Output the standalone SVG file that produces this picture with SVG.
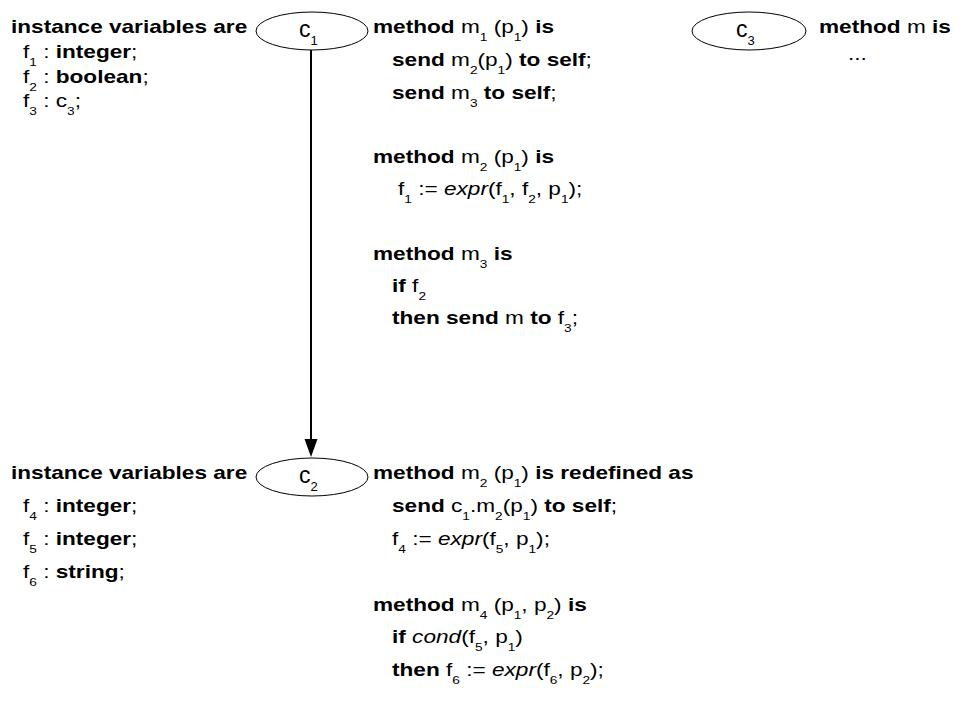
<svg xmlns="http://www.w3.org/2000/svg" width="963" height="702" viewBox="0 0 963 702">
<style>
text{font-family:"Liberation Sans",Arial,Helvetica,sans-serif;font-size:19px;fill:#000}
.b{font-weight:bold}
.i{font-style:italic}
.s{font-size:11.5px}
.lbl{font-size:23px}
.ls{font-size:13px}
ellipse{fill:#fff;stroke:#000;stroke-width:1}
</style>
<rect width="963" height="702" fill="#fff"/>
<g id="connectors">
<line x1="311" y1="50" x2="311" y2="440" stroke="#000" stroke-width="2"/>
<polygon points="304.5,439 317.5,439 311,457" fill="#000"/>
</g>
<g id="c1">
<ellipse cx="312" cy="31" rx="56" ry="19"/>
<text x="299" y="37" class="lbl">c<tspan class="ls" dy="8">1</tspan></text>
</g>
<g id="c2">
<ellipse cx="312" cy="477" rx="56" ry="19"/>
<text x="299" y="483" class="lbl">c<tspan class="ls" dy="8">2</tspan></text>
</g>
<g id="c3">
<ellipse cx="749" cy="31" rx="57" ry="19"/>
<text x="736" y="37" class="lbl">c<tspan class="ls" dy="8">3</tspan></text>
</g>
<g id="c1-vars">
<text transform="translate(11,33) scale(1.19,1)" class="b">instance variables are</text>
<text transform="translate(23,58) scale(1.19,1)">f<tspan class="s" dy="8">1</tspan><tspan dy="-8"> : </tspan><tspan class="b">integer</tspan>;</text>
<text transform="translate(23,83) scale(1.19,1)">f<tspan class="s" dy="8">2</tspan><tspan dy="-8"> : </tspan><tspan class="b">boolean</tspan>;</text>
<text transform="translate(23,107) scale(1.19,1)">f<tspan class="s" dy="8">3</tspan><tspan dy="-8"> : c</tspan><tspan class="s" dy="8">3</tspan><tspan dy="-8">;</tspan></text>
</g>
<g id="c1-methods">
<text transform="translate(373,33) scale(1.19,1)"><tspan class="b">method</tspan> m<tspan class="s" dy="8">1</tspan><tspan dy="-8"> (p</tspan><tspan class="s" dy="8">1</tspan><tspan dy="-8">) </tspan><tspan class="b">is</tspan></text>
<text transform="translate(392,66) scale(1.19,1)"><tspan class="b">send</tspan> m<tspan class="s" dy="8">2</tspan><tspan dy="-8">(p</tspan><tspan class="s" dy="8">1</tspan><tspan dy="-8">) </tspan><tspan class="b">to self</tspan>;</text>
<text transform="translate(392,99) scale(1.19,1)"><tspan class="b">send</tspan> m<tspan class="s" dy="8">3</tspan><tspan dy="-8"> </tspan><tspan class="b">to self</tspan>;</text>
<text transform="translate(373,163) scale(1.19,1)"><tspan class="b">method</tspan> m<tspan class="s" dy="8">2</tspan><tspan dy="-8"> (p</tspan><tspan class="s" dy="8">1</tspan><tspan dy="-8">) </tspan><tspan class="b">is</tspan></text>
<text transform="translate(398,195) scale(1.19,1)">f<tspan class="s" dy="8">1</tspan><tspan dy="-8"> := </tspan><tspan class="i">expr</tspan>(f<tspan class="s" dy="8">1</tspan><tspan dy="-8">, f</tspan><tspan class="s" dy="8">2</tspan><tspan dy="-8">, p</tspan><tspan class="s" dy="8">1</tspan><tspan dy="-8">);</tspan></text>
<text transform="translate(373,260) scale(1.19,1)"><tspan class="b">method</tspan> m<tspan class="s" dy="8">3</tspan><tspan dy="-8"> </tspan><tspan class="b">is</tspan></text>
<text transform="translate(392,292) scale(1.19,1)"><tspan class="b">if</tspan> f<tspan class="s" dy="8">2</tspan></text>
<text transform="translate(392,324) scale(1.19,1)"><tspan class="b">then send</tspan> m <tspan class="b">to</tspan> f<tspan class="s" dy="8">3</tspan><tspan dy="-8">;</tspan></text>
</g>
<g id="c3-methods">
<text transform="translate(819,33) scale(1.19,1)"><tspan class="b">method</tspan> m <tspan class="b">is</tspan></text>
<text transform="translate(848,60) scale(1.19,1)">...</text>
</g>
<g id="c2-vars">
<text transform="translate(11,479) scale(1.19,1)" class="b">instance variables are</text>
<text transform="translate(23,512) scale(1.19,1)">f<tspan class="s" dy="8">4</tspan><tspan dy="-8"> : </tspan><tspan class="b">integer</tspan>;</text>
<text transform="translate(23,545) scale(1.19,1)">f<tspan class="s" dy="8">5</tspan><tspan dy="-8"> : </tspan><tspan class="b">integer</tspan>;</text>
<text transform="translate(23,578) scale(1.19,1)">f<tspan class="s" dy="8">6</tspan><tspan dy="-8"> : </tspan><tspan class="b">string</tspan>;</text>
</g>
<g id="c2-methods">
<text transform="translate(373,479) scale(1.19,1)"><tspan class="b">method</tspan> m<tspan class="s" dy="8">2</tspan><tspan dy="-8"> (p</tspan><tspan class="s" dy="8">1</tspan><tspan dy="-8">) </tspan><tspan class="b">is redefined as</tspan></text>
<text transform="translate(392,512) scale(1.19,1)"><tspan class="b">send</tspan> c<tspan class="s" dy="8">1</tspan><tspan dy="-8">.m</tspan><tspan class="s" dy="8">2</tspan><tspan dy="-8">(p</tspan><tspan class="s" dy="8">1</tspan><tspan dy="-8">) </tspan><tspan class="b">to self</tspan>;</text>
<text transform="translate(392,545) scale(1.19,1)">f<tspan class="s" dy="8">4</tspan><tspan dy="-8"> := </tspan><tspan class="i">expr</tspan>(f<tspan class="s" dy="8">5</tspan><tspan dy="-8">, p</tspan><tspan class="s" dy="8">1</tspan><tspan dy="-8">);</tspan></text>
<text transform="translate(373,611) scale(1.19,1)"><tspan class="b">method</tspan> m<tspan class="s" dy="8">4</tspan><tspan dy="-8"> (p</tspan><tspan class="s" dy="8">1</tspan><tspan dy="-8">, p</tspan><tspan class="s" dy="8">2</tspan><tspan dy="-8">) </tspan><tspan class="b">is</tspan></text>
<text transform="translate(392,643) scale(1.19,1)"><tspan class="b">if</tspan> <tspan class="i">cond</tspan>(f<tspan class="s" dy="8">5</tspan><tspan dy="-8">, p</tspan><tspan class="s" dy="8">1</tspan><tspan dy="-8">)</tspan></text>
<text transform="translate(392,676) scale(1.19,1)"><tspan class="b">then</tspan> f<tspan class="s" dy="8">6</tspan><tspan dy="-8"> := </tspan><tspan class="i">expr</tspan>(f<tspan class="s" dy="8">6</tspan><tspan dy="-8">, p</tspan><tspan class="s" dy="8">2</tspan><tspan dy="-8">);</tspan></text>
</g>
</svg>
